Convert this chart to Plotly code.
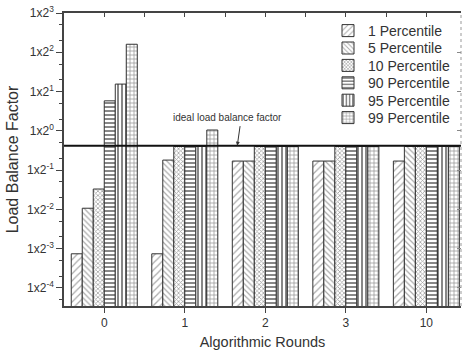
import math
import plotly.graph_objects as go

rounds = ["0", "1", "2", "3", "10"]
series_names = ["1 Percentile", "5 Percentile", "10 Percentile",
                "90 Percentile", "95 Percentile", "99 Percentile"]
p1 = [0.00074, 0.00074, 0.17, 0.17, 0.17]
p5 = [0.0107, 0.18, 0.17, 0.17, 0.40]
p10 = [0.033, 0.40, 0.40, 0.40, 0.40]
p90 = [5.8, 0.40, 0.40, 0.40, 0.40]
p95 = [15.5, 0.40, 0.40, 0.40, 0.40]
p99 = [160.0, 1.05, 0.40, 0.40, 0.40]
ideal_value = 0.42
y_exponents = [-4, -3, -2, -1, 0, 1, 2, 3]

series_values = [p1, p5, p10, p90, p95, p99]
patterns = [
    dict(shape="/", size=5, solidity=0.25, fgcolor="#555555", bgcolor="white"),
    dict(shape="\\", size=4, solidity=0.3, fgcolor="#555555", bgcolor="white"),
    dict(shape="x", size=3, solidity=0.45, fgcolor="#444444", bgcolor="white"),
    dict(shape="-", size=4, solidity=0.5, fgcolor="#111111", bgcolor="white"),
    dict(shape="|", size=4, solidity=0.5, fgcolor="#111111", bgcolor="white"),
    dict(shape="+", size=4, solidity=0.35, fgcolor="#333333", bgcolor="white"),
]

x_pos = list(range(len(rounds)))
x_range = [-0.5, 4.43]
y_range = [-4.46, 3]

FONT = "Arial, Liberation Sans, sans-serif"

# plot area in pixels (for legend placement)
H, T, B = 354, 13, 48
plot_h = H - T - B
legend_rows_px = [31 + 17.4 * i for i in range(len(series_names))]

fig = go.Figure()
legend_layouts = {}
for i, (name, vals, pat) in enumerate(zip(series_names, series_values, patterns)):
    lname = "legend" if i == 0 else "legend%d" % (i + 1)
    fig.add_trace(go.Bar(
        x=x_pos, y=vals, name=name, legend=lname,
        marker=dict(color="white", pattern=pat,
                    line=dict(color="#333333", width=1)),
    ))
    legend_layouts[lname] = dict(
        x=0.665, y=(H - B - legend_rows_px[i]) / plot_h,
        xanchor="left", yanchor="middle",
        bgcolor="rgba(0,0,0,0)", borderwidth=0,
        font=dict(size=14, color="#333333"),
    )

# ideal load balance line (on overlay axes so top/right axes get drawn)
fig.add_trace(go.Scatter(
    x=x_range, y=[ideal_value, ideal_value], mode="lines",
    line=dict(color="#111111", width=2), showlegend=False, hoverinfo="skip",
    xaxis="x2", yaxis="y2",
))

half_ticks = [i * 0.5 for i in range(0, 2 * len(rounds) - 1)]

fig.update_layout(
    width=463, height=354,
    margin=dict(l=64, r=2, t=T, b=B),
    paper_bgcolor="white", plot_bgcolor="white",
    barmode="group", bargap=0.18, bargroupgap=0,
    font=dict(family=FONT, color="#333333", size=12),
    xaxis=dict(
        range=x_range, tickvals=x_pos, ticktext=rounds,
        ticks="outside", ticklen=5, tickwidth=1.2, tickcolor="#444444",
        showline=True, linecolor="#444444", linewidth=1.5,
        showgrid=False, zeroline=False,
        tickfont=dict(size=12, color="#333333"),
        title=dict(text="Algorithmic Rounds", font=dict(size=14.5, color="#333333"), standoff=8),
    ),
    yaxis=dict(
        type="log", range=y_range,
        tickvals=[10 ** e for e in y_exponents],
        ticktext=["1x2<sup>%d</sup>" % e for e in y_exponents],
        ticks="outside", ticklen=6, tickwidth=1.2, tickcolor="#444444",
        minor=dict(ticks="outside", ticklen=3, tickcolor="#444444", showgrid=False),
        showline=True, linecolor="#444444", linewidth=1.5,
        showgrid=False, zeroline=False,
        tickfont=dict(size=12, color="#333333"),
        title=dict(text="Load Balance Factor", font=dict(size=16, color="#333333"), standoff=4),
    ),
    xaxis2=dict(
        overlaying="x", side="top", range=x_range,
        tickvals=half_ticks, showticklabels=False,
        ticks="inside", ticklen=4, tickwidth=1.2, tickcolor="#444444",
        showline=True, linecolor="#444444", linewidth=1.5,
        showgrid=False, zeroline=False,
    ),
    yaxis2=dict(
        overlaying="y", side="right", type="log", range=y_range,
        tickvals=[10 ** e for e in y_exponents], showticklabels=False,
        ticks="inside", ticklen=4, tickwidth=1, tickcolor="#888888",
        showline=False, showgrid=False, zeroline=False,
    ),
    showlegend=True,
    **legend_layouts,
)

# right border (dashed)
fig.add_shape(type="line", xref="paper", yref="paper", x0=1, x1=1, y0=0, y1=1,
              line=dict(color="#999999", width=1, dash="dot"))

# annotation text and arrow
fig.add_annotation(
    text="ideal load balance factor", xref="x", yref="paper",
    x=1.528, y=0.645, showarrow=False,
    font=dict(size=10, color="#333333"),
)
fig.add_annotation(
    text="", xref="x", yref="y",
    x=1.652, y=math.log10(ideal_value),
    showarrow=True, arrowhead=2, arrowsize=0.8, arrowwidth=1, arrowcolor="#333333",
    ax=3, ay=-21,
)

fig.write_html("out.html")
